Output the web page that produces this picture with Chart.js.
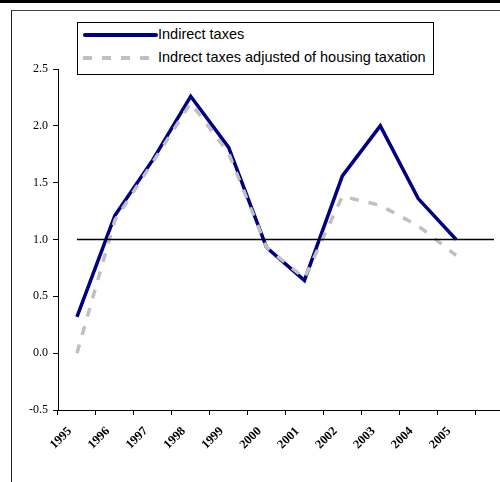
<!DOCTYPE html>
<html>
<head>
<meta charset="utf-8">
<script src="https://cdn.jsdelivr.net/npm/chart.js@4.4.1/dist/chart.umd.min.js"></script>
<style>
  html, body { margin: 0; padding: 0; background: #fff; width: 500px; height: 482px; overflow: hidden; }
  #page { position: absolute; left: 0; top: 0; width: 500px; height: 482px; overflow: hidden; }
  #topbar { position: absolute; left: 0; top: 0; width: 500px; height: 3px; background: #000; }
  #frame { position: absolute; left: 11px; top: 10px; width: 600px; height: 600px;
           border-left: 1px solid #222; border-top: 1px solid #444; }
  #wrap { position: absolute; left: 0; top: 0; width: 530px; height: 482px; }
  #legend { position: absolute; left: 77px; top: 22px; width: 355px; height: 51px;
            border: 1px solid #000; background: #fff;
            font-family: "Liberation Sans", Arial, sans-serif; font-size: 14.5px; color: #000; }
  .item { position: absolute; left: 0; height: 18px; width: 100%; }
  .sample { position: absolute; left: 5px; top: 8px; width: 75px; height: 4px; }
  .label { position: absolute; left: 80px; top: 0; line-height: 18px; white-space: nowrap; }
</style>
</head>
<body>
<div id="page">
  <div id="topbar"></div>
  <div id="frame"></div>
  <div id="wrap"><canvas id="chart" width="530" height="482"></canvas></div>
  <div id="legend"></div>
</div>
<script>
// Categorias e séries
const years = ['1995', '1996', '1997', '1998', '1999', '2000', '2001', '2002', '2003', '2004', '2005', ''];
const indirectTaxes = [0.32, 1.21, 1.70, 2.26, 1.81, 0.93, 0.64, 1.56, 2.00, 1.36, 1.00, null];
const adjustedTaxes = [0.00, 1.17, 1.68, 2.20, 1.76, 0.93, 0.66, 1.38, 1.30, 1.12, 0.86, null];
const baseline = [1, 1, 1, 1, 1, 1, 1, 1, 1, 1, 1, 1];
const yTicks = [-0.5, 0.0, 0.5, 1.0, 1.5, 2.0, 2.5];

const serif = '"Liberation Serif", "Times New Roman", serif';

const chart = new Chart(document.getElementById('chart'), {
    type: 'line',
    data: {
        labels: years,
        datasets: [
            {
                label: 'Indirect taxes',
                data: indirectTaxes,
                borderColor: '#000080',
                borderWidth: 3.5,
                pointRadius: 0,
                tension: 0,
                order: 2,
            },
            {
                label: 'Indrect taxes adjusted of housing taxation',
                data: adjustedTaxes,
                borderColor: '#c0c0c0',
                borderWidth: 3.5,
                borderDash: [9, 10],
                pointRadius: 0,
                tension: 0,
                order: 1,
            },
            {
                label: '',
                data: baseline,
                borderColor: '#000',
                borderWidth: 1.5,
                pointRadius: 0,
                order: 0,
            },
        ]
    },
    options: {
        responsive: false,
        animation: false,
        events: [],
        layout: { padding: { top: 69, right: 17, bottom: 0, left: 0 } },
        plugins: {
            legend: { display: false },
            tooltip: { enabled: false },
        },
        scales: {
            x: {
                type: 'category',
                offset: true,
                grid: { offset: true, drawOnChartArea: false, tickLength: 5, color: '#000' },
                border: { color: '#000', width: 1 },
                ticks: {
                    autoSkip: false,
                    minRotation: 45,
                    maxRotation: 45,
                    labelOffset: -7,
                    padding: 9,
                    color: '#000',
                    font: { family: serif, size: 12.5, weight: 'bold' },
                },
                afterFit: (scale) => { scale.height = 72; },
            },
            y: {
                min: -0.5,
                max: 2.5,
                afterBuildTicks: (scale) => { scale.ticks = yTicks.map(v => ({ value: v })); },
                grid: { drawOnChartArea: false, tickLength: 5, color: '#000' },
                border: { color: '#000', width: 1 },
                ticks: {
                    padding: 5,
                    color: '#000',
                    font: { family: serif, size: 12 },
                    callback: (v) => Number(v).toFixed(1),
                },
                afterFit: (scale) => { scale.width = 58; },
            },
        },
    },
});

// Legenda em HTML a partir dos datasets com rótulo
const legend = document.getElementById('legend');
chart.data.datasets.filter(ds => ds.label).forEach((ds, i) => {
    const item = document.createElement('div');
    item.className = 'item';
    item.style.top = (2 + i * 23) + 'px';
    const sample = document.createElement('div');
    sample.className = 'sample';
    if (ds.borderDash) {
        const [on, off] = ds.borderDash;
        sample.style.background = `repeating-linear-gradient(to right, ${ds.borderColor} 0 ${on}px, transparent ${on}px ${on + off}px)`;
    } else {
        sample.style.background = ds.borderColor;
        sample.style.borderRadius = '2px';
    }
    const text = document.createElement('span');
    text.className = 'label';
    text.textContent = ds.label;
    item.appendChild(sample);
    item.appendChild(text);
    legend.appendChild(item);
});
</script>
</body>
</html>
